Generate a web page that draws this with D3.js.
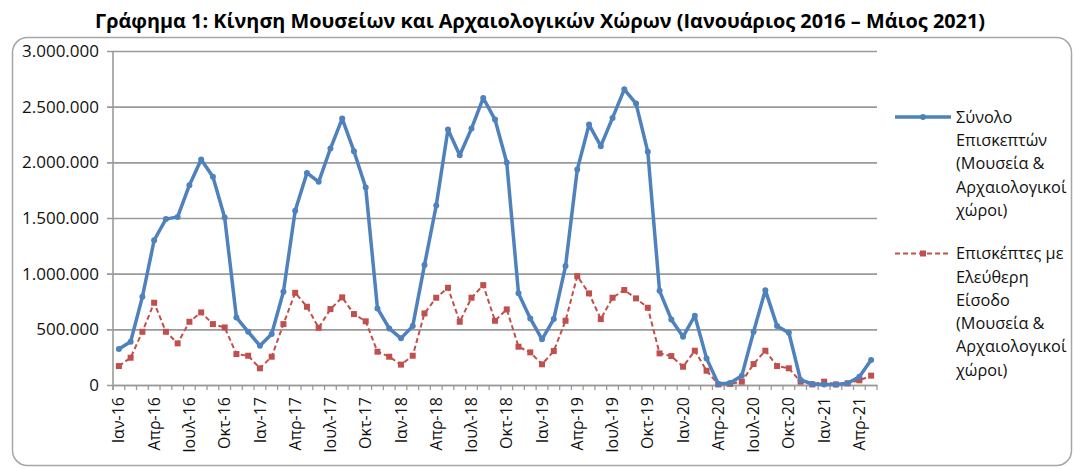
<!DOCTYPE html>
<meta charset="utf-8">
<script src="https://cdn.jsdelivr.net/npm/d3@7"></script>
<style>
  body { margin: 0; background: #fff; }
  text { font-family: "Open Sans", "Noto Sans", sans-serif; fill: #111; }
</style>
<div id="my_dataviz"></div>
<script>

// month names used for the category labels
var monthNames = ["Ιαν", "Φεβ", "Μαρ", "Απρ", "Μαϊ", "Ιουν", "Ιουλ", "Αυγ", "Σεπ", "Οκτ", "Νοε", "Δεκ"];
var years = ["16", "17", "18", "19", "20", "21"];

// Jan 2016 .. May 2021
var months = [];
years.forEach(function(y) {
  monthNames.forEach(function(m) { months.push(m + "-" + y); });
});
months = months.slice(0, 65);

// total visitors (museums & archaeological sites)
var totalVisitors = [
  323000, 389000, 792000, 1300000, 1490000, 1510000, 1795000, 2025000, 1870000, 1505000, 607000, 478000,
  353000, 458000, 837000, 1565000, 1905000, 1825000, 2124000, 2393000, 2100000, 1774000, 688000, 508000,
  419000, 529000, 1077000, 1612000, 2295000, 2064000, 2303000, 2578000, 2384000, 1998000, 823000, 598000,
  410000, 592000, 1068000, 1935000, 2339000, 2145000, 2399000, 2656000, 2528000, 2094000, 846000, 589000,
  434000, 622000, 239000, 10000, 18000, 84000, 478000, 852000, 529000, 470000, 45000, 10000,
  4000, 5000, 15000, 75000, 224000
];

// visitors with free admission
var freeVisitors = [
  170000, 245000, 478000, 739000, 478000, 374000, 568000, 652000, 547000, 517000, 278000, 263000,
  150000, 254000, 547000, 828000, 703000, 514000, 682000, 787000, 637000, 572000, 299000, 254000,
  183000, 263000, 643000, 784000, 873000, 568000, 784000, 897000, 577000, 679000, 344000, 293000,
  186000, 305000, 577000, 978000, 823000, 592000, 784000, 853000, 778000, 694000, 284000, 260000,
  164000, 308000, 128000, 5000, 10000, 30000, 188000, 308000, 170000, 150000, 30000, 5000,
  30000, 5000, 15000, 42000, 84000
];

var yTicks = [0, 500000, 1000000, 1500000, 2000000, 2500000, 3000000];

var seriesNames = [
  ["Σύνολο", "Επισκεπτών", "(Μουσεία &", "Αρχαιολογικοί", "χώροι)"],
  ["Επισκέπτες με", "Ελεύθερη", "Είσοδο", "(Μουσεία &", "Αρχαιολογικοί", "χώροι)"]
];

var W = 1074, H = 469;
var plotLeft = 113, plotRight = 877, plotTop = 51, plotBottom = 385;

var svg = d3.select("#my_dataviz")
  .append("svg")
    .attr("width", W)
    .attr("height", H);

// title
svg.append("text")
  .attr("x", 540)
  .attr("y", 28)
  .attr("text-anchor", "middle")
  .attr("textLength", 890)
  .attr("lengthAdjust", "spacingAndGlyphs")
  .attr("font-size", 20)
  .style("font-weight", "bold")
  .style("fill", "#000")
  .text("Γράφημα 1: Κίνηση Μουσείων και Αρχαιολογικών Χώρων (Ιανουάριος 2016 – Μάιος 2021)");

// chart border
svg.append("rect")
  .attr("x", 12.5).attr("y", 37.5)
  .attr("width", 1059).attr("height", 428)
  .attr("rx", 15)
  .attr("fill", "none")
  .attr("stroke", "#a6a6a6")
  .attr("stroke-width", 1.5);

var x = d3.scaleBand()
  .domain(months)
  .range([plotLeft, plotRight])
  .paddingInner(0).paddingOuter(0);

var y = d3.scaleLinear()
  .domain([0, 3000000])
  .range([plotBottom, plotTop]);

var fmt = d3.formatLocale({decimal: ",", thousands: ".", grouping: [3], currency: ["", "€"]}).format(",");

// Y axis + gridlines
var yAxis = svg.append("g")
  .attr("transform", "translate(" + (plotLeft - 6) + ",0)")
  .call(d3.axisLeft(y).tickValues(yTicks).tickFormat(fmt).tickSize(-(plotRight - plotLeft + 6)).tickPadding(8))
  .attr("font-size", 17)
  .attr("font-family", null);
yAxis.select(".domain").remove();
yAxis.selectAll(".tick line").attr("stroke", "#9a9a9a").attr("stroke-width", 1.6);

// vertical axis line
svg.append("line")
  .attr("x1", plotLeft).attr("x2", plotLeft)
  .attr("y1", plotTop).attr("y2", plotBottom + 5)
  .attr("stroke", "#9a9a9a").attr("stroke-width", 1.6);

// X axis: labels every 3rd month, ticks between categories
var xAxis = svg.append("g")
  .attr("transform", "translate(0," + plotBottom + ")")
  .call(d3.axisBottom(x).tickSize(0).tickFormat(function(d, i) { return i % 3 === 0 ? d : ""; }))
  .attr("font-size", 16)
  .attr("font-family", null);
xAxis.select(".domain").attr("stroke", "#9a9a9a").attr("stroke-width", 1.6);
xAxis.selectAll(".tick text")
  .attr("transform", "rotate(-90)")
  .attr("text-anchor", "end")
  .attr("x", -12)
  .attr("y", 0)
  .attr("dy", "0.35em");

svg.append("g").selectAll("line")
  .data(months.concat(["end"]))
  .enter().append("line")
    .attr("x1", function(d) { return d === "end" ? plotRight : x(d); })
    .attr("x2", function(d) { return d === "end" ? plotRight : x(d); })
    .attr("y1", plotBottom)
    .attr("y2", plotBottom + 5)
    .attr("stroke", "#9a9a9a").attr("stroke-width", 1.3);

var cx = function(d, i) { return x(months[i]) + x.bandwidth() / 2; };

var line = d3.line()
  .x(cx)
  .y(function(d) { return y(d); });

// free admission series
svg.append("path")
  .datum(freeVisitors)
  .attr("fill", "none")
  .attr("stroke", "#c0504d")
  .attr("stroke-width", 2)
  .attr("stroke-dasharray", "5,3")
  .attr("d", line);
svg.append("g").selectAll("rect")
  .data(freeVisitors)
  .enter().append("rect")
    .attr("x", function(d, i) { return cx(d, i) - 3; })
    .attr("y", function(d) { return y(d) - 3; })
    .attr("width", 6).attr("height", 6)
    .attr("fill", "#c0504d");

// total series
svg.append("path")
  .datum(totalVisitors)
  .attr("fill", "none")
  .attr("stroke", "#4f81bd")
  .attr("stroke-width", 3.5)
  .attr("stroke-linejoin", "round")
  .attr("d", line);
svg.append("g").selectAll("circle")
  .data(totalVisitors)
  .enter().append("circle")
    .attr("cx", cx)
    .attr("cy", function(d) { return y(d); })
    .attr("r", 3)
    .attr("fill", "#4f81bd");

// legend
var legend = svg.append("g").attr("font-size", 16.3);
var lg1 = 117, lg2 = 253.5, lh = 23.3;

legend.append("line")
  .attr("x1", 895).attr("x2", 951).attr("y1", lg1).attr("y2", lg1)
  .attr("stroke", "#4f81bd").attr("stroke-width", 3.5);
legend.append("circle")
  .attr("cx", 923).attr("cy", lg1).attr("r", 3).attr("fill", "#4f81bd");

legend.append("line")
  .attr("x1", 895).attr("x2", 951).attr("y1", lg2).attr("y2", lg2)
  .attr("stroke", "#c0504d").attr("stroke-width", 2).attr("stroke-dasharray", "5,3");
legend.append("rect")
  .attr("x", 920).attr("y", lg2 - 3).attr("width", 6).attr("height", 6).attr("fill", "#c0504d");

[lg1, lg2].forEach(function(base, k) {
  seriesNames[k].forEach(function(t, j) {
    legend.append("text")
      .attr("x", 956)
      .attr("y", base + j * lh)
      .attr("dy", "0.35em")
      .text(t);
  });
});

</script>
